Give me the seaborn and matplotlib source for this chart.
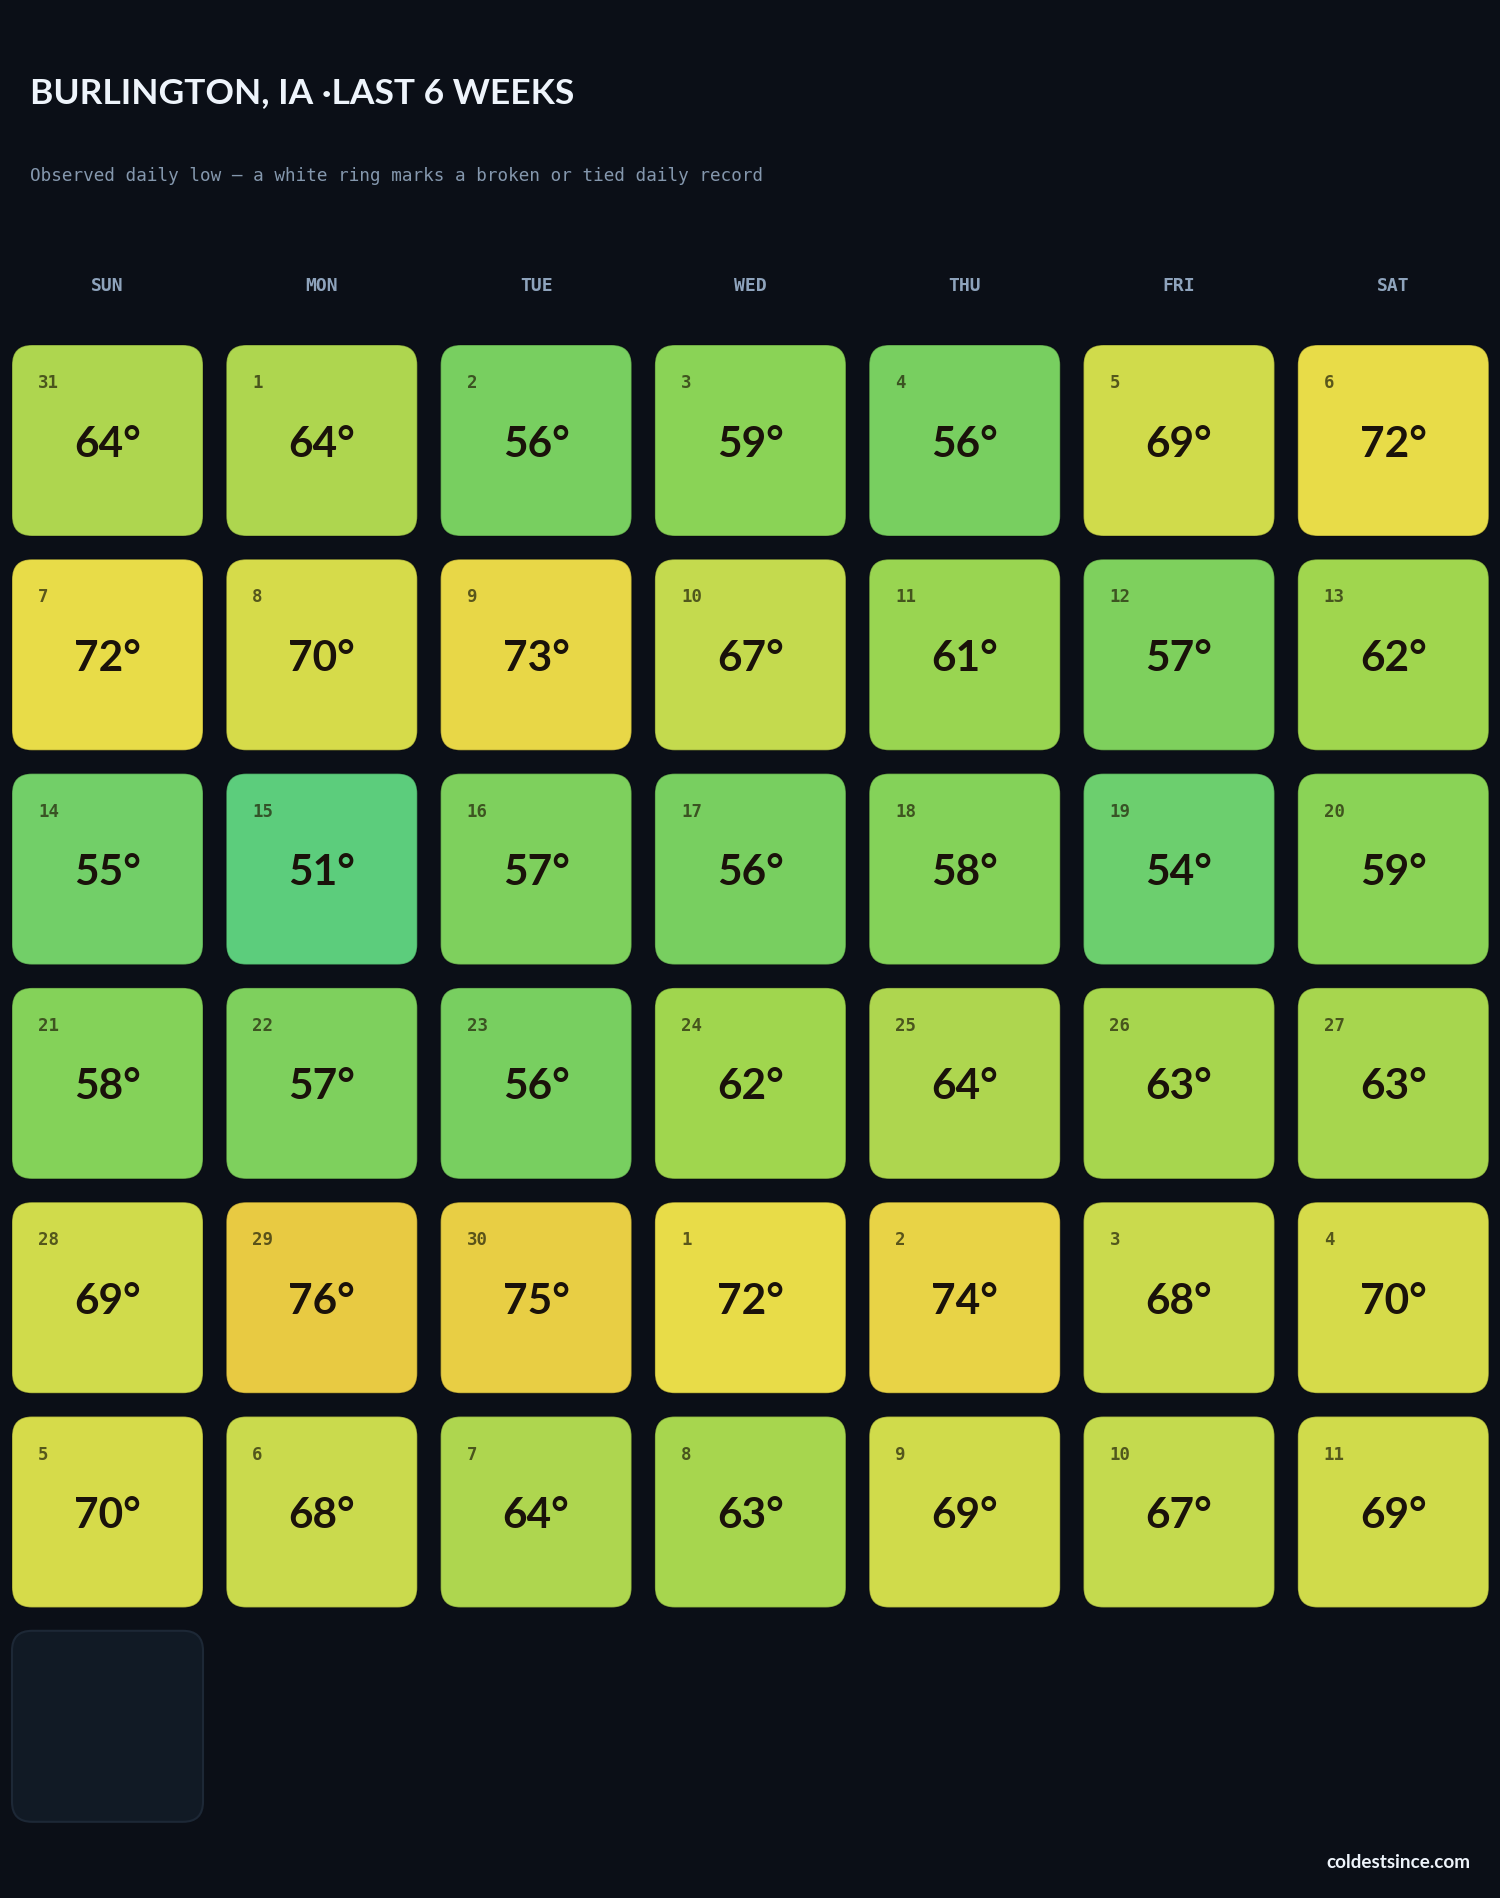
import matplotlib
matplotlib.use("Agg")
import matplotlib.pyplot as plt
from matplotlib.patches import FancyBboxPatch
from matplotlib.colors import LinearSegmentedColormap, Normalize
import seaborn as sns

# ---------------- data ----------------
TITLE = "BURLINGTON, IA ·LAST 6 WEEKS"
SUBTITLE = "Observed daily low — a white ring marks a broken or tied daily record"
FOOTER = "coldestsince.com"
weekdays = ["SUN", "MON", "TUE", "WED", "THU", "FRI", "SAT"]

day_numbers = [31, 1, 2, 3, 4, 5, 6,
               7, 8, 9, 10, 11, 12, 13,
               14, 15, 16, 17, 18, 19, 20,
               21, 22, 23, 24, 25, 26, 27,
               28, 29, 30, 1, 2, 3, 4,
               5, 6, 7, 8, 9, 10, 11]
daily_lows = [64, 64, 56, 59, 56, 69, 72,
              72, 70, 73, 67, 61, 57, 62,
              55, 51, 57, 56, 58, 54, 59,
              58, 57, 56, 62, 64, 63, 63,
              69, 76, 75, 72, 74, 68, 70,
              70, 68, 64, 63, 69, 67, 69]
record_flags = [False] * len(daily_lows)
empty_slots = 1  # trailing placeholder cells

# colour scale stops (temperature -> colour)
scale_temps = [51, 54, 56, 59, 62, 64, 67, 70, 72, 74, 76]
scale_colors = ["#5ccd7c", "#6ccf6e", "#78cf60", "#8ad356", "#a0d64e", "#aed64f",
                "#c4da4e", "#d6db4a", "#e8dc48", "#e8d346", "#e8ca42"]

# ---------------- style ----------------
BG = "#0b0f17"
sns.set_theme(style="dark", rc={"figure.facecolor": BG, "axes.facecolor": BG})
plt.rcParams["font.family"] = ["Lato", "DejaVu Sans"]

W, H, DPI = 1500, 1899, 100
fig = plt.figure(figsize=(W / DPI, H / DPI), dpi=DPI)
ax = fig.add_axes([0, 0, 1, 1])
ax.set_xlim(0, W)
ax.set_ylim(H, 0)
ax.set_axis_off()

lo, hi = scale_temps[0], scale_temps[-1]
cmap = LinearSegmentedColormap.from_list(
    "lows", [((t - lo) / (hi - lo), c) for t, c in zip(scale_temps, scale_colors)])
norm = Normalize(vmin=lo, vmax=hi)

# layout
X0, Y0 = 12, 346
CELL, PITCH = 191, 214.3
RADIUS = 20

fig.text(30 / W, 1 - 93 / H, TITLE, color="#eef4fb", fontsize=25.5, fontweight="bold",
         ha="left", va="center", family=["Lato", "DejaVu Sans"])
fig.text(30 / W, 1 - 176 / H, SUBTITLE, color="#8497ad", fontsize=12.7,
         ha="left", va="center", family="DejaVu Sans Mono")

for i, wd in enumerate(weekdays):
    ax.text(X0 + i * PITCH + CELL / 2, 286, wd, color="#8ea3bc", fontsize=13,
            fontweight="bold", ha="center", va="center", family="DejaVu Sans Mono")

for k, (d, t) in enumerate(zip(day_numbers, daily_lows)):
    r, c = divmod(k, 7)
    x = X0 + c * PITCH
    y = Y0 + r * PITCH
    box = FancyBboxPatch((x, y), CELL, CELL,
                         boxstyle=f"round,pad=0,rounding_size={RADIUS}",
                         facecolor=cmap(norm(t)), edgecolor=(0, 0, 0, 0.25), linewidth=1.0)
    ax.add_patch(box)
    if record_flags[k]:
        ring = FancyBboxPatch((x + 3, y + 3), CELL - 6, CELL - 6,
                              boxstyle=f"round,pad=0,rounding_size={RADIUS - 3}",
                              facecolor="none", edgecolor="white", linewidth=3)
        ax.add_patch(ring)
    ax.text(x + 26, y + 37, str(d), color=(0.14, 0.14, 0.04, 0.72), fontsize=12.5,
            fontweight="bold", ha="left", va="center", family="DejaVu Sans Mono")
    ax.text(x + CELL / 2, y + CELL / 2 + 3, f"{t}°", color="#1a120a", fontsize=30.5,
            fontweight="bold", ha="center", va="center")

n = len(daily_lows)
for e in range(empty_slots):
    r, c = divmod(n + e, 7)
    x = X0 + c * PITCH
    y = Y0 + r * PITCH
    ax.add_patch(FancyBboxPatch((x, y), CELL, CELL,
                                boxstyle=f"round,pad=0,rounding_size={RADIUS}",
                                facecolor="#111a25", edgecolor="#1d2836", linewidth=1.5))

fig.text(1470 / W, 1 - 1863 / H, FOOTER, color="#eef4fb", fontsize=13.6,
         fontweight="bold", ha="right", va="center")

fig.savefig("out.png", dpi=DPI, facecolor=BG)
